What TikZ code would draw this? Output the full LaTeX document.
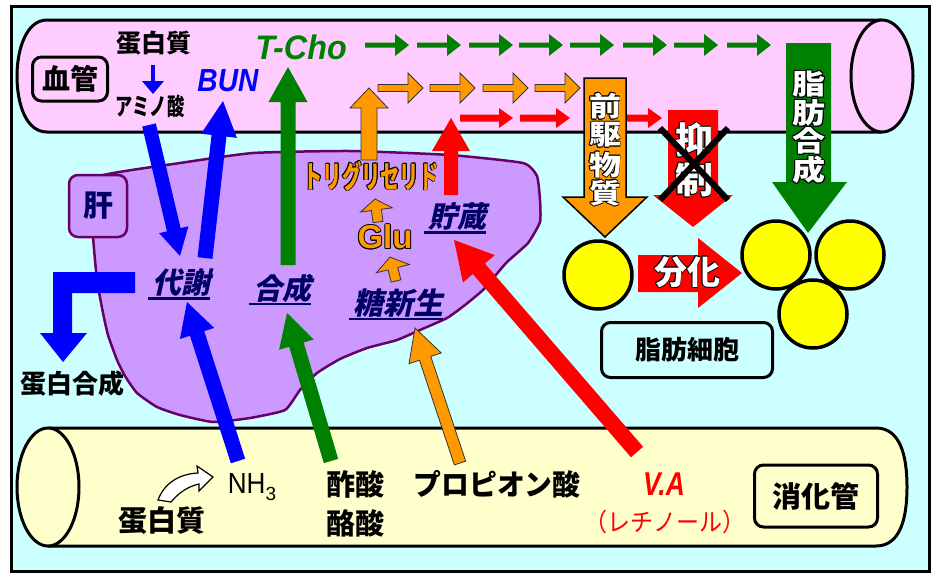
\documentclass[tikz,border=0pt]{standalone}
\usepackage{fontspec}
\usepackage{graphicx}
\usetikzlibrary{calc}
\setmainfont{Liberation Sans}
\newfontfamily\jp{Noto Sans CJK JP}
\newfontfamily\jpsl{Noto Sans CJK JP}[FakeSlant=0.22]
\newcommand\fs[1]{\fontsize{#1}{#1}\selectfont}

\definecolor{bgcyan}{HTML}{CCFFFF}
\definecolor{vpink}{HTML}{FFCCFF}
\definecolor{gutyel}{HTML}{FFFFCC}
\definecolor{liverfill}{HTML}{CC99FF}
\definecolor{liverline}{HTML}{660066}
\definecolor{navy}{HTML}{000066}
\definecolor{ogreen}{HTML}{008000}
\definecolor{oblue}{HTML}{0000FF}
\definecolor{oorange}{HTML}{FF9900}
\definecolor{ored}{HTML}{FF0000}
\definecolor{fatyel}{HTML}{FFFF00}

% block arrow: style, start, tip, shaft half width, head half width, head length
\newcommand{\blockarrow}[6]{%
  \coordinate (ba-h) at ($(#3)!#6pt!(#2)$);
  \path[#1] ($(#2)!#4pt!90:(#3)$) -- ($(ba-h)!#4pt!90:(#3)$) -- ($(ba-h)!#5pt!90:(#3)$)
    -- (#3) -- ($(ba-h)!#5pt!-90:(#3)$) -- ($(ba-h)!#4pt!-90:(#3)$) -- ($(#2)!#4pt!-90:(#3)$) -- cycle;
}
% text with a thin outline: name, position, fill colour, outline colour, font and text
\newcommand{\outltext}[5]{%
  \foreach \ox/\oy in {-0.9/0,0.9/0,0/-0.9,0/0.9,-0.65/-0.65,0.65/-0.65,-0.65/0.65,0.65/0.65}
    {\node[inner sep=0pt, text=#4] at ($(#2)+(\ox,\oy)$) {#5};}
  \node[inner sep=0pt, text=#3] (#1) at (#2) {#5};
}
% underlined slanted label inside the liver
\newcommand{\liverlabel}[4]{%
  \node[inner sep=0pt, text=navy, font=\jpsl\bfseries\fs{#3}] (#1) at (#2) {#4};
  \draw[navy, line width=2.5pt] ([xshift=-4pt,yshift=-1.5pt]#1.south west) -- ([yshift=-1.5pt]#1.south east);
}

\tikzset{
  lbl/.style={inner sep=0pt, font=\jp\bfseries\fs{#1}},
  lbl/.default=24,
  framebox/.style={draw=black, line width=3pt, rounded corners=9pt, inner sep=0pt},
  tube/.style={draw=black, line width=3pt, line join=round},
  fatcell/.style={draw=black, line width=3.5pt, fill=fatyel},
  orangearrow/.style={fill=oorange, draw=black!80, line width=0.8pt, line join=miter},
}

\begin{document}
\begin{tikzpicture}[x=1pt, y=-1pt]
\useasboundingbox (0,0) rectangle (939,574);
\fill[white] (0,0) rectangle (939,574);
\draw[line width=3pt, fill=bgcyan] (11,6) rectangle (929,571);

% blood vessel
\path[tube, fill=vpink] (882,20) -- (47,20) .. controls (26,20) and (17,50) .. (17,76)
  .. controls (17,104) and (26,132) .. (47,132) -- (882,132);
\draw[tube, fill=vpink] (882,76) ellipse [x radius=31pt, y radius=56pt];

% digestive tract
\path[tube, fill=gutyel] (48,428) -- (876,428) .. controls (900,428) and (907,455) .. (907,487)
  .. controls (907,519) and (900,546) .. (876,546) -- (48,546);
\draw[tube, fill=gutyel] (48,487) ellipse [x radius=31pt, y radius=59pt];

% liver
\draw[fill=liverfill, draw=liverline, line width=2.5pt, line join=round]
  plot[smooth cycle, tension=0.3] coordinates {
  (100,176) (180,163) (253,153) (350,151) (450,155) (523,163) (537,176) (540,200)
  (540,222) (528,243) (507,262) (495,276) (483,290) (465,305) (447,318) (420,330)
  (397,340) (367,348) (340,359) (317,373) (300,390) (285,410) (250,418) (213,422)
  (180,415) (157,407) (137,393) (125,376) (117,360) (108,335) (103,313) (97,280)
  (93,236) (93,200)};
\node[draw=liverline, fill=liverfill, line width=2.5pt, rounded corners=9pt,
  minimum width=58pt, minimum height=62pt, inner sep=0pt, text=navy,
  font=\jp\bfseries\fs{30}] (kan) at (98,206) {肝};

% labels in the blood vessel
\node[framebox, fill=vpink, minimum width=75pt, minimum height=44pt, font=\jp\bfseries\fs{28}] (kekkan) at (70,79) {血管};
\node[lbl=25] (tanpakuA) at (154,43) {蛋白質};
\node[lbl=24] (amino) at (150,106) {\scalebox{0.72}[1]{アミノ酸}};
\node[inner sep=0pt, text=oblue, font=\bfseries\itshape\fs{32}] (bun) at (228,81) {\scalebox{0.88}[1]{BUN}};
\node[inner sep=0pt, text=ogreen, font=\bfseries\itshape\fs{34}] (tcho) at (301,47) {\scalebox{0.95}[1]{T-Cho}};

% labels in the liver
\liverlabel{taisha}{181,283}{29}{代謝}
\liverlabel{gousei}{282,288}{29}{合成}
\liverlabel{toushinsei}{398,303}{30}{糖新生}
\liverlabel{chozou}{457,217}{29}{貯蔵}
\outltext{tg}{371,176}{oorange}{black}{\jp\bfseries\fs{31}\scalebox{0.62}[1]{トリグリセリド}}
\outltext{glu}{385,237}{oorange}{black}{\bfseries\fs{33}Glu}
\node[lbl=26] (tanpakugousei) at (72,384) {蛋白合成};

% labels in the digestive tract
\node[lbl=29] (tanpakuB) at (162,521) {蛋白質};
\node[inner sep=0pt, font=\fs{29}] (nh3) at (252,487) {\scalebox{0.9}[1]{NH}{\fs{19}\raisebox{-7pt}{3}}};
\node[lbl=29] (sakusan) at (355,484) {酢酸};
\node[lbl=29] (rakusan) at (355,523) {酪酸};
\node[lbl=29] (propion) at (497,484) {\scalebox{0.96}[1]{プロピオン酸}};
\node[inner sep=0pt, text=ored, font=\bfseries\itshape\fs{33}] (va) at (664,484) {\scalebox{0.8}[1]{V.A}};
\node[inner sep=0pt, text=ored, font=\jp\fs{25}] (retinol) at (665,522) {\scalebox{0.92}[1]{（レチノール）}};
\node[framebox, fill=gutyel, minimum width=123pt, minimum height=62pt, font=\jp\bfseries\fs{29}] (shoukakan) at (816,496) {消化管};

% fat cells
\node[framebox, fill=bgcyan, minimum width=171pt, minimum height=55pt, font=\jp\bfseries\fs{26}] (shibousaibou) at (687,350) {脂肪細胞};
\node[fatcell, circle, minimum size=68pt, inner sep=0pt] (preadipo) at (598,275) {};
\node[fatcell, circle, minimum size=68pt, inner sep=0pt] (fatA) at (776,255) {};
\node[fatcell, circle, minimum size=68pt, inner sep=0pt] (fatB) at (850,255) {};
\node[fatcell, circle, minimum size=68pt, inner sep=0pt] (fatC) at (813,314) {};

% flow along the blood vessel
\foreach \x [count=\i] in {365,417,469,519,570,623,674,727}
  {\coordinate (gs\i) at (\x,45); \coordinate (ge\i) at (\x+44,45);
   \blockarrow{fill=ogreen}{gs\i}{ge\i}{2.5}{11}{14}}
\foreach \x [count=\i] in {378,430,483,535}
  {\coordinate (os\i) at (\x,88); \coordinate (oe\i) at (\x+45,88);
   \blockarrow{orangearrow}{os\i}{oe\i}{3.5}{15}{15}}
\foreach \a/\b [count=\i] in {460/513,520/570,625/662}
  {\coordinate (rs\i) at (\a,118); \coordinate (re\i) at (\b,118);
   \blockarrow{fill=ored}{rs\i}{re\i}{3.5}{10}{14}}

% big vertical arrows
\path[fill=oorange, draw=black, line width=1.5pt] (584,78) -- (626,78) -- (626,197) -- (647,197)
  -- (605,237) -- (563,197) -- (584,197) -- cycle;
\path[fill=ored] (668,110) -- (718,110) -- (718,195) -- (733,195) -- (693,227) -- (653,195)
  -- (668,195) -- cycle;
\path[fill=ogreen] (786,43) -- (831,43) -- (831,182) -- (847,182) -- (808,233) -- (772,182)
  -- (786,182) -- cycle;
\path[fill=ored] (638,255) -- (698,255) -- (698,238) -- (742,273) -- (698,308) -- (698,292)
  -- (638,292) -- cycle;

\outltext{zen}{605,106}{white}{black}{\jp\bfseries\fs{32}\scalebox{1}[0.85]{前}}
\outltext{ku}{605,135}{white}{black}{\jp\bfseries\fs{32}\scalebox{1}[0.85]{駆}}
\outltext{butsu}{605,165}{white}{black}{\jp\bfseries\fs{32}\scalebox{1}[0.85]{物}}
\outltext{shitsu}{605,193}{white}{black}{\jp\bfseries\fs{32}\scalebox{1}[0.85]{質}}
\outltext{yoku}{694,140}{white}{black}{\jp\bfseries\fs{38}\scalebox{1}[0.95]{抑}}
\outltext{sei}{694,180}{white}{black}{\jp\bfseries\fs{38}\scalebox{1}[0.95]{制}}
\outltext{shi}{809,84}{white}{black}{\jp\bfseries\fs{33}\scalebox{1}[0.85]{脂}}
\outltext{bou}{809,113}{white}{black}{\jp\bfseries\fs{33}\scalebox{1}[0.85]{肪}}
\outltext{gou}{809,141}{white}{black}{\jp\bfseries\fs{33}\scalebox{1}[0.85]{合}}
\outltext{sei2}{809,170}{white}{black}{\jp\bfseries\fs{33}\scalebox{1}[0.85]{成}}
\outltext{bunka}{687,272}{white}{black}{\jp\bfseries\fs{33}分化}
\draw[line width=6pt] (660,128) -- (728,200) (728,128) -- (660,200);

% arrows between the organs
\coordinate (aminoS) at (153,65); \coordinate (aminoT) at (153,94);
\blockarrow{fill=oblue}{aminoS}{aminoT}{1.8}{11}{13}
\coordinate (a1s) at (149,125); \coordinate (a1t) at (180,256);
\blockarrow{fill=oblue}{a1s}{a1t}{7}{15}{27}
\coordinate (a2s) at (205,258); \coordinate (a2t) at (223,101);
\blockarrow{fill=oblue}{a2s}{a2t}{7.5}{18}{35}
\coordinate (a3s) at (288,265); \coordinate (a3t) at (288,67);
\blockarrow{fill=ogreen}{a3s}{a3t}{7.5}{19.5}{35}
\coordinate (a4s) at (331,461); \coordinate (a4t) at (287,313);
\blockarrow{fill=ogreen}{a4s}{a4t}{7.5}{18}{33}
\coordinate (a5s) at (238,461); \coordinate (a5t) at (187,302);
\blockarrow{fill=oblue}{a5s}{a5t}{7.5}{18}{33}
\coordinate (a6s) at (460,463); \coordinate (a6t) at (415,328);
\blockarrow{orangearrow}{a6s}{a6t}{6}{17}{32}
\coordinate (a7s) at (637,452); \coordinate (a7t) at (454,240);
\blockarrow{fill=ored}{a7s}{a7t}{8}{21}{38}
\coordinate (a8s) at (451,195); \coordinate (a8t) at (451,118);
\blockarrow{fill=ored}{a8s}{a8t}{7}{19}{33}
\coordinate (a9s) at (369,160); \coordinate (a9t) at (369,88);
\blockarrow{orangearrow}{a9s}{a9t}{8}{19}{20}
\coordinate (g1s) at (378,222); \coordinate (g1t) at (375,199);
\blockarrow{orangearrow}{g1s}{g1t}{5}{16}{11}
\coordinate (g2s) at (396,281); \coordinate (g2t) at (390,257);
\blockarrow{orangearrow}{g2s}{g2t}{5}{17}{12}

% L-shaped arrow to protein synthesis
\path[fill=oblue] (135,272) -- (53,272) -- (53,333) -- (40,333) -- (63,362) -- (87,333)
  -- (72,333) -- (72,293) -- (135,293) -- cycle;

% bent hollow arrow from protein to ammonia
\path[fill=white, draw=black, line width=1.2pt, line join=miter] (158,500) -- (171,502)
  .. controls (180,491) and (190,486) .. (199,484) -- (199,491) -- (213,477) -- (197,466)
  -- (198,473) .. controls (178,474) and (164,484) .. (158,500) -- cycle;
\end{tikzpicture}
\end{document}
